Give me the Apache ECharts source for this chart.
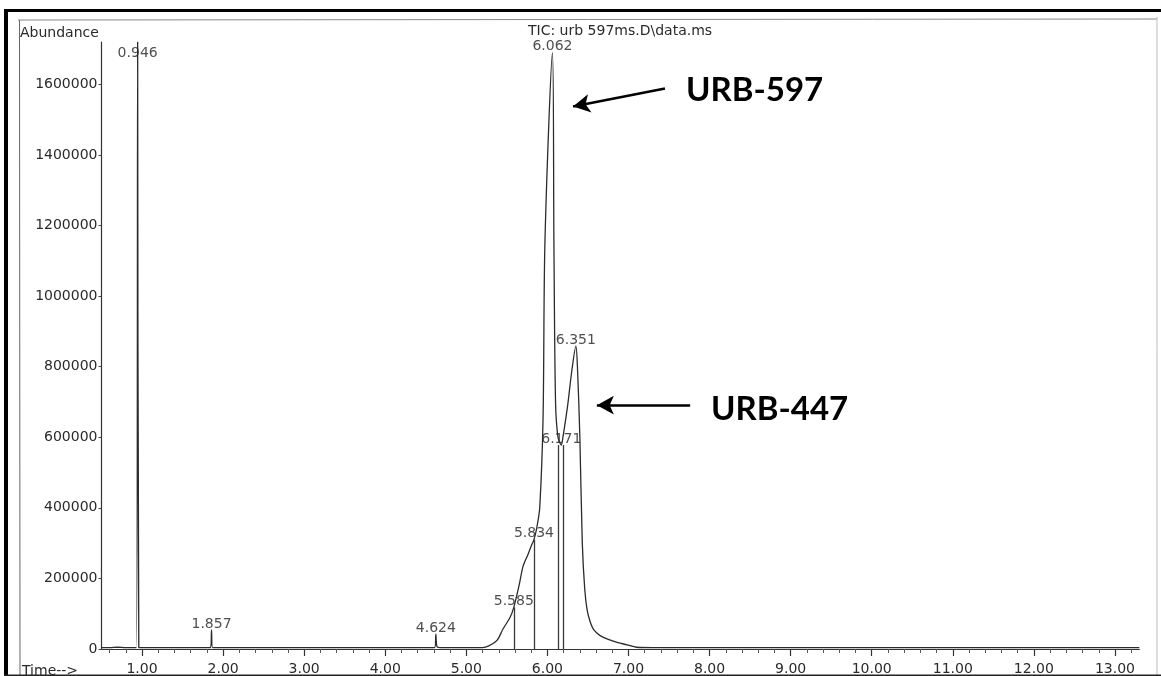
<!DOCTYPE html>
<html>
<head>
<meta charset="utf-8">
<script src="https://cdn.jsdelivr.net/npm/echarts@6/dist/echarts.min.js"></script>
<style>
  html, body { margin: 0; padding: 0; background: #ffffff; }
  #chart { width: 1161px; height: 676px; }
</style>
</head>
<body>
<div id="chart"></div>
<script>
// ---- data ----
const ticTime = [0.5, 0.6, 0.7, 0.8, 0.93, 0.946, 0.96, 1.2, 1.845, 1.857, 1.87, 3.0, 4.61, 4.624, 4.64, 4.7,
  5.2, 5.27, 5.38, 5.45, 5.54, 5.585, 5.65, 5.70, 5.76, 5.80, 5.834, 5.87, 5.905, 5.946, 5.97, 6.062,
  6.08, 6.10, 6.13, 6.171, 6.19, 6.25, 6.30, 6.351, 6.37, 6.40, 6.43, 6.46, 6.49, 6.53, 6.57, 6.65,
  6.75, 6.87, 6.98, 7.1, 7.3, 9.0, 11.0, 13.3];
const ticAbundance = [4000, 4000, 5000, 4000, 4000, 1720000, 4000, 4000, 4000, 54000, 4000, 4000, 4000, 42000, 6000, 4000,
  4000, 8000, 25000, 56000, 90000, 118000, 180000, 235000, 268000, 292000, 310000, 345000, 400000, 654000, 1160000, 1690000,
  1150000, 700000, 600000, 578000, 598000, 691000, 787000, 858000, 800000, 600000, 300000, 170000, 110000, 75000, 55000, 38000,
  27000, 18000, 12000, 5000, 4000, 4000, 4000, 4000];

const peakTimes = [0.946, 1.857, 4.624, 5.585, 5.834, 6.062, 6.171, 6.351];
const peakHeights = [1720000, 54000, 42000, 118000, 310000, 1690000, 578000, 858000];
const peakLabels = ['0.946', '1.857', '4.624', '5.585', '5.834', '6.062', '6.171', '6.351'];

const dropTimes = [5.585, 5.834, 6.13, 6.19];
const dropTops = [118000, 310000, 578000, 578000];

const xTickValues = [1, 2, 3, 4, 5, 6, 7, 8, 9, 10, 11, 12, 13];
const xMinorValues = [0.6, 0.8, 1.2, 1.4, 1.6, 1.8, 2.2, 2.4, 2.6, 2.8, 3.2, 3.4, 3.6, 3.8, 4.2, 4.4, 4.6, 4.8,
  5.2, 5.4, 5.6, 5.8, 6.2, 6.4, 6.6, 6.8, 7.2, 7.4, 7.6, 7.8, 8.2, 8.4, 8.6, 8.8, 9.2, 9.4, 9.6, 9.8,
  10.2, 10.4, 10.6, 10.8, 11.2, 11.4, 11.6, 11.8, 12.2, 12.4, 12.6, 12.8, 13.2];

const annoNames = ['URB-597', 'URB-447'];
const annoFrom = [[7.45, 1588000], [7.76, 691000]];
const annoTo = [[6.316, 1537000], [6.61, 691000]];

// ---- chart ----
const X_MIN = 0.5, X_MAX = 13.3, Y_MAX = 1720000;
const FONT = 'DejaVu Sans';
const INK = '#2b2b2b';

const chart = echarts.init(document.getElementById('chart'), null, { renderer: 'canvas' });

const axisCommon = {
  type: 'value', min: X_MIN, max: X_MAX, gridIndex: 0, position: 'bottom',
  splitLine: { show: false }
};

const option = {
  backgroundColor: '#ffffff',
  animation: false,
  grid: { left: 101.5, right: 21.7, top: 42, bottom: 24, containLabel: false },
  xAxis: [
    Object.assign({}, axisCommon, {
      axisLine: { show: true, lineStyle: { color: '#333', width: 1.2 } },
      axisTick: { show: true, customValues: xTickValues, length: 7, inside: false, lineStyle: { color: '#333', width: 1.2 } },
      axisLabel: { show: true, customValues: xTickValues, margin: 13, fontFamily: FONT, fontSize: 14, color: '#2a2a2a',
        formatter: v => Number(v).toFixed(2) }
    }),
    Object.assign({}, axisCommon, {
      axisLine: { show: false },
      axisTick: { show: true, customValues: xMinorValues, length: 4, lineStyle: { color: '#555', width: 1 } },
      axisLabel: { show: false }
    })
  ],
  yAxis: {
    type: 'value', min: 0, max: Y_MAX, interval: 200000,
    axisLine: { show: true, lineStyle: { color: '#333', width: 1.2 } },
    axisTick: { show: true, length: 3, lineStyle: { color: '#444' } },
    splitLine: { show: false },
    axisLabel: { margin: 4, fontFamily: FONT, fontSize: 14, color: '#2a2a2a', showMaxLabel: false,
      formatter: v => (v > 1600000 ? '' : String(v)) }
  },
  series: [
    {
      type: 'line', name: 'TIC', xAxisIndex: 0,
      data: ticTime.map((t, i) => [t, ticAbundance[i]]),
      showSymbol: false, smooth: 0.3, clip: true,
      lineStyle: { color: INK, width: 1.3 },
      markLine: {
        silent: true, symbol: ['none', 'none'], animation: false,
        label: { show: false },
        lineStyle: { color: '#3a3a3a', width: 1.3, type: 'solid' },
        data: dropTimes.map((t, i) => [{ coord: [t, 0] }, { coord: [t, dropTops[i]] }])
      }
    },
    {
      type: 'scatter', name: 'peaks', xAxisIndex: 0,
      data: peakTimes.map((t, i) => [t, peakHeights[i] >= Y_MAX ? peakHeights[i] - 50000 : peakHeights[i]]),
      symbolSize: 0,
      label: {
        show: true, position: 'top', distance: 3, offset: [0, 4],
        fontFamily: FONT, fontSize: 14, color: '#222',
        formatter: p => peakLabels[p.dataIndex]
      },
      emphasis: { disabled: true },
      markLine: {
        silent: true, symbol: ['none', 'arrow'], symbolSize: [14, 17], animation: false,
        label: { show: false },
        lineStyle: { color: '#000', width: 2.5, type: 'solid' },
        data: annoFrom.map((f, i) => [{ coord: f }, { coord: annoTo[i] }])
      }
    }
  ],
  graphic: [
    // scanned page frame
    { type: 'line', shape: { x1: 18, y1: 20, x2: 1157, y2: 19 }, style: { stroke: '#888', lineWidth: 1 }, z: 10 },
    { type: 'line', shape: { x1: 19.5, y1: 20, x2: 20, y2: 676 }, style: { stroke: '#666', lineWidth: 1 }, z: 10 },
    { type: 'line', shape: { x1: 1157, y1: 17, x2: 1157, y2: 676 }, style: { stroke: '#bbb', lineWidth: 1 }, z: 10 },
    { type: 'rect', shape: { x: 4, y: 9, width: 4, height: 667 }, style: { fill: '#000' }, z: 20 },
    { type: 'rect', shape: { x: 4, y: 9, width: 1157, height: 3 }, style: { fill: '#000' }, z: 20 },
    { type: 'rect', shape: { x: 4, y: 674.5, width: 1157, height: 1.5 }, style: { fill: '#222' }, z: 20 },
    // scanned header texts
    { type: 'text', left: 20, top: 26, style: { text: 'Abundance', font: '14px "DejaVu Sans"', fill: '#2a2a2a' }, z: 10 },
    { type: 'text', left: 528, top: 24, style: { text: 'TIC: urb 597ms.D\\data.ms', font: '14px "DejaVu Sans"', fill: '#2a2a2a' }, z: 10 },
    { type: 'text', left: 22, top: 664, style: { text: 'Time-->', font: '14px "DejaVu Sans"', fill: '#2a2a2a' }, z: 10 },
    // annotations
    { type: 'text', left: 686, top: 74, style: { text: annoNames[0], font: 'bold 33px Lato', fill: '#000' }, z: 10 },
    { type: 'text', left: 711, top: 393, style: { text: annoNames[1], font: 'bold 33px Lato', fill: '#000' }, z: 10 }
  ]
};

chart.setOption(option);
</script>
</body>
</html>
